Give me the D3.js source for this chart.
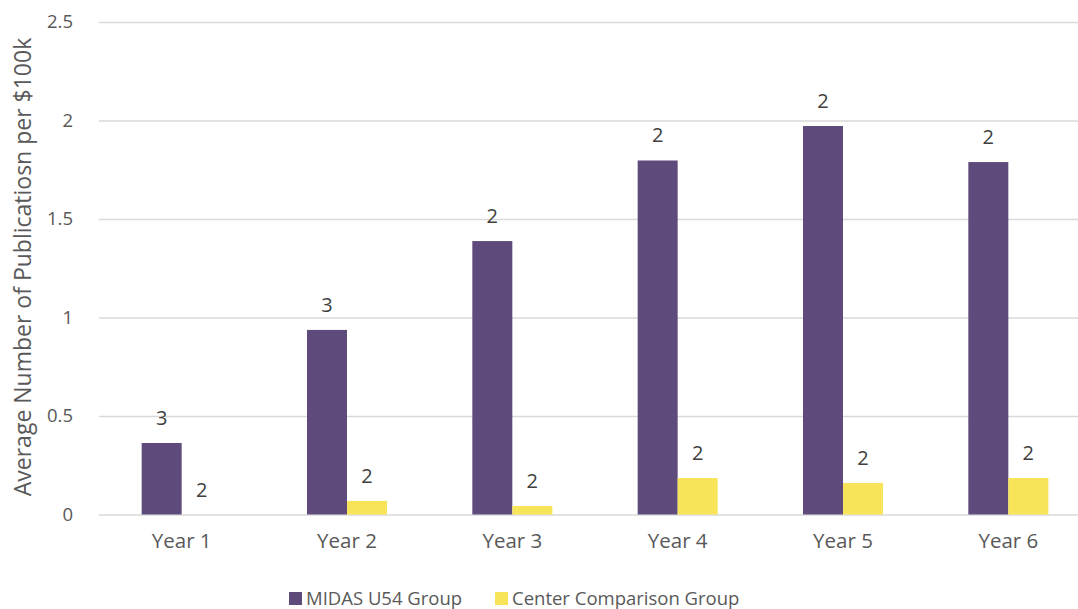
<!doctype html>
<html lang="en">
<head>
<meta charset="utf-8">
<title>Publications per $100k</title>
<style>
  body { margin: 0; background: #fff; font-family: 'Open Sans', sans-serif; }
  .grid line { stroke: #d9d9d9; stroke-width: 1.3; }
  .grid .domain { display: none; }
  .axis .domain, .axis line { display: none; }
  .axis text { fill: #595959; font-size: 18.5px; font-family: 'Open Sans', sans-serif; }
  .axis.x text { font-size: 20.5px; }
</style>
</head>
<body>
<svg width="1078" height="609"></svg>
<script src="https://d3js.org/d3.v7.min.js"></script>
<script>
// chart data
var years = ["Year 1", "Year 2", "Year 3", "Year 4", "Year 5", "Year 6"];
var series = ["MIDAS U54 Group", "Center Comparison Group"];
var midas = [0.363, 0.937, 1.388, 1.797, 1.972, 1.789];
var center = [0, 0.069, 0.043, 0.185, 0.160, 0.185];
var midasLabels = ["3", "3", "2", "2", "2", "2"];
var centerLabels = ["2", "2", "2", "2", "2", "2"];
var yTicks = [0, 0.5, 1, 1.5, 2, 2.5];
var colors = ["#5f4b7b", "#f7e458"];

var data = years.map(function(y, i) {
  return { year: y, values: [
    { key: series[0], value: midas[i], label: midasLabels[i] },
    { key: series[1], value: center[i], label: centerLabels[i] }
  ]};
});

var svg = d3.select("svg");
var plotLeft = 99, plotRight = 1091, plotTop = 22, plotBottom = 514.5;

var x0 = d3.scaleBand()
    .domain(years)
    .range([plotLeft, plotRight])
    .paddingInner(0.516)
    .paddingOuter(0.258);

var x1 = d3.scaleBand()
    .domain(series)
    .range([0, x0.bandwidth()]);

var y = d3.scaleLinear()
    .domain([0, 2.5])
    .range([plotBottom, plotTop]);

var z = d3.scaleOrdinal().domain(series).range(colors);

// gridlines
svg.append("g")
    .attr("class", "grid")
    .attr("transform", "translate(" + plotLeft + ",0)")
    .call(d3.axisRight(y).tickValues(yTicks).tickSize(plotRight - plotLeft).tickFormat(""));

// y axis labels
svg.append("g")
    .attr("class", "axis")
    .attr("transform", "translate(" + (plotLeft - 23) + ",0)")
    .call(d3.axisLeft(y).tickValues(yTicks).tickSize(0).tickFormat(function(d) { return d; }));

// x axis labels
svg.append("g")
    .attr("class", "axis x")
    .attr("transform", "translate(0," + plotBottom + ")")
    .call(d3.axisBottom(x0).tickSize(0).tickPadding(19));

// bars
var groups = svg.append("g")
  .selectAll("g")
  .data(data)
  .enter().append("g")
    .attr("transform", function(d) { return "translate(" + x0(d.year) + ",0)"; });

groups.selectAll("rect")
  .data(function(d) { return d.values; })
  .enter().append("rect")
    .attr("x", function(d) { return x1(d.key); })
    .attr("y", function(d) { return y(d.value); })
    .attr("width", x1.bandwidth())
    .attr("height", function(d) { return y(0) - y(d.value); })
    .attr("fill", function(d) { return z(d.key); });

groups.selectAll("text")
  .data(function(d) { return d.values; })
  .enter().append("text")
    .attr("x", function(d) { return x1(d.key) + x1.bandwidth() / 2; })
    .attr("y", function(d) { return y(d.value) - 18; })
    .attr("text-anchor", "middle")
    .attr("fill", "#404040")
    .attr("font-size", "20px")
    .text(function(d) { return d.label; });

// y axis title
svg.append("text")
    .attr("transform", "translate(31," + 267 + ") rotate(-90)")
    .attr("text-anchor", "middle")
    .attr("fill", "#595959")
    .attr("font-size", "23px")
    .text("Average Number of Publicatiosn per $100k");

// legend
var legendX = [289, 495];
var legend = svg.append("g")
  .selectAll("g")
  .data(series)
  .enter().append("g")
    .attr("transform", function(d, i) { return "translate(" + legendX[i] + ",592)"; });

legend.append("rect")
    .attr("width", 13)
    .attr("height", 13)
    .attr("fill", z);

legend.append("text")
    .attr("x", 17)
    .attr("y", 13)
    .attr("fill", "#595959")
    .attr("font-size", "18.5px")
    .text(function(d) { return d; });
</script>
</body>
</html>
